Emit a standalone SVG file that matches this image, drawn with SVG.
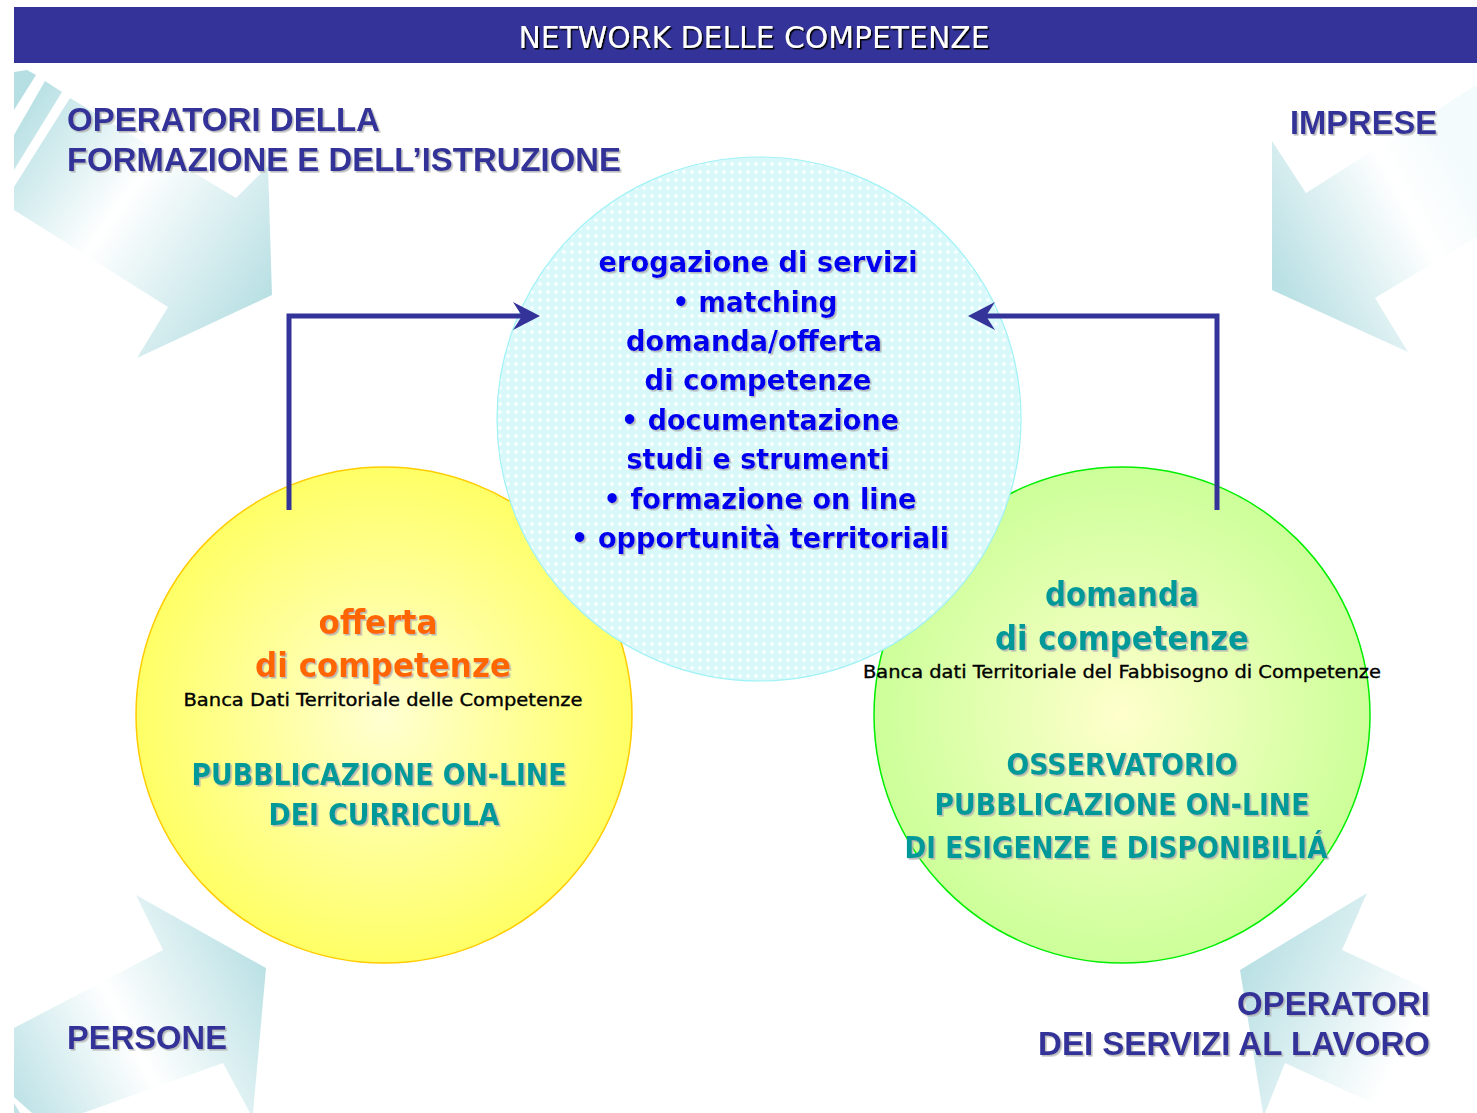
<svg xmlns="http://www.w3.org/2000/svg" width="1477" height="1113" viewBox="0 0 1477 1113">
<defs>
  <style>
    .lbl{font-family:"Liberation Sans",Arial,sans-serif;font-weight:bold;font-size:33px;fill:#333399;filter:url(#sh)}
    .ctr{font-family:"DejaVu Sans",Verdana,sans-serif;font-weight:bold;font-size:28px;fill:#0000ee;text-anchor:middle;filter:url(#sh)}
    .big{font-family:"DejaVu Sans",Verdana,sans-serif;font-weight:bold;font-size:33px;text-anchor:middle;filter:url(#sh)}
    .cap{font-family:"DejaVu Sans Condensed","DejaVu Sans",sans-serif;font-stretch:condensed;font-weight:bold;font-size:31px;fill:#009999;text-anchor:middle;filter:url(#sh)}
    .sub{font-family:"DejaVu Sans",Verdana,sans-serif;font-size:18px;fill:#000;stroke:#000;stroke-width:0.35;text-anchor:middle}
    .conn{fill:none;stroke:#333399;stroke-width:5;stroke-linejoin:miter}
  </style>
  <filter id="sh" x="-5%" y="-20%" width="110%" height="150%">
    <feDropShadow dx="1.6" dy="1.6" stdDeviation="0.5" flood-color="#b0b0b0" flood-opacity="0.85"/>
  </filter>
  <filter id="shk" x="-5%" y="-20%" width="110%" height="150%">
    <feDropShadow dx="1.5" dy="1.5" stdDeviation="0.3" flood-color="#000" flood-opacity="1"/>
  </filter>
  <marker id="arr" viewBox="-29 -15 30 30" refX="-10" refY="0" markerWidth="30" markerHeight="30" markerUnits="userSpaceOnUse" orient="auto">
    <path d="M0,0 L-27,-14 L-18,0 L-27,14 Z" fill="#333399"/>
  </marker>
  <pattern id="dots" width="8" height="8" patternUnits="userSpaceOnUse">
    <rect width="8" height="8" fill="#d9f8fa"/>
    <path d="M4,1.5 L6.5,4 L4,6.5 L1.5,4 Z" fill="#f6feff"/>
  </pattern>
  <radialGradient id="gy" cx="0.5" cy="0.5" r="0.5">
    <stop offset="0" stop-color="#ffffd2"/>
    <stop offset="1" stop-color="#ffff66"/>
  </radialGradient>
  <radialGradient id="gg" cx="0.5" cy="0.5" r="0.5">
    <stop offset="0" stop-color="#ffffcc"/>
    <stop offset="1" stop-color="#ccff99"/>
  </radialGradient>
  <linearGradient id="a1" gradientUnits="userSpaceOnUse" x1="14" y1="110" x2="272" y2="290">
    <stop offset="0" stop-color="#b5dfe3"/>
    <stop offset="0.45" stop-color="#ffffff"/>
    <stop offset="1" stop-color="#b9e0e4"/>
  </linearGradient>
  <linearGradient id="a2" gradientUnits="userSpaceOnUse" x1="1460" y1="170" x2="1272" y2="270">
    <stop offset="0" stop-color="#f4fbfc"/>
    <stop offset="0.3" stop-color="#ffffff"/>
    <stop offset="1" stop-color="#b9e0e4"/>
  </linearGradient>
  <linearGradient id="a3" gradientUnits="userSpaceOnUse" x1="14" y1="1090" x2="266" y2="960">
    <stop offset="0" stop-color="#bfe3e7"/>
    <stop offset="0.45" stop-color="#ffffff"/>
    <stop offset="1" stop-color="#b9e0e4"/>
  </linearGradient>
  <linearGradient id="a4" gradientUnits="userSpaceOnUse" x1="1477" y1="1080" x2="1245" y2="960">
    <stop offset="0" stop-color="#ffffff"/>
    <stop offset="0.3" stop-color="#ffffff"/>
    <stop offset="1" stop-color="#b9e0e4"/>
  </linearGradient>
</defs>
<rect width="1477" height="1113" fill="#ffffff"/>

<g id="bg-arrows">
  <g id="arrow-tl" fill="url(#a1)">
    <polygon points="14,72 27,70 36,75 14,110"/>
    <polygon points="45,81 62,92 14,170 14,135"/>
    <polygon points="70,98 236,198 268,166 272,295 137,358 168,307 14,210 14,187"/>
  </g>
  <g id="arrow-tr" fill="url(#a2)">
    <polygon points="1272,141 1306,193 1470,89 1477,85 1477,237 1375,298 1408,352 1272,290"/>
  </g>
  <g id="arrow-bl" fill="url(#a3)">
    <polygon points="136,895 266,968 253,1113 250,1113 223,1063 83,1113 32,1113 14,1097 14,1028 163,950"/>
    <polygon points="14,1103 20,1113 14,1113"/>
  </g>
  <g id="arrow-br" fill="url(#a4)">
    <polygon points="1367,893 1342,950 1477,1012 1477,1113 1394,1113 1285,1063 1265,1113 1263,1113 1240,970"/>
  </g>
</g>

<g id="header">
  <rect x="14" y="7" width="1463" height="56" fill="#333399"/>
  <text x="754" y="48" text-anchor="middle" textLength="471" lengthAdjust="spacingAndGlyphs" style="font-family:'DejaVu Sans Condensed','DejaVu Sans',sans-serif;font-stretch:condensed;font-size:30px;fill:#fff;filter:url(#shk)">NETWORK DELLE COMPETENZE</text>
</g>

<g id="label-formazione">
  <text class="lbl" x="67" y="131" textLength="313" lengthAdjust="spacingAndGlyphs">OPERATORI DELLA</text>
  <text class="lbl" x="67" y="171" textLength="554" lengthAdjust="spacingAndGlyphs">FORMAZIONE E DELL’ISTRUZIONE</text>
</g>
<g id="label-imprese">
  <text class="lbl" x="1290" y="134" textLength="147" lengthAdjust="spacingAndGlyphs">IMPRESE</text>
</g>
<g id="label-persone">
  <text class="lbl" x="67" y="1049" textLength="160" lengthAdjust="spacingAndGlyphs">PERSONE</text>
</g>
<g id="label-servizi">
  <text class="lbl" x="1237" y="1015" textLength="193" lengthAdjust="spacingAndGlyphs">OPERATORI</text>
  <text class="lbl" x="1038" y="1055" textLength="392" lengthAdjust="spacingAndGlyphs">DEI SERVIZI AL LAVORO</text>
</g>

<g id="node-offerta">
  <circle cx="384" cy="715" r="248" fill="url(#gy)" stroke="#ffcc00" stroke-width="1.5"/>
  <text class="big" x="378" y="634" style="fill:#ff6600" textLength="119" lengthAdjust="spacingAndGlyphs">offerta</text>
  <text class="big" x="383" y="677" style="fill:#ff6600" textLength="256" lengthAdjust="spacingAndGlyphs">di competenze</text>
  <text class="sub" x="383" y="706" textLength="399" lengthAdjust="spacingAndGlyphs">Banca Dati Territoriale delle Competenze</text>
  <text class="cap" x="379" y="785" textLength="375" lengthAdjust="spacingAndGlyphs">PUBBLICAZIONE ON-LINE</text>
  <text class="cap" x="384" y="825" textLength="231" lengthAdjust="spacingAndGlyphs">DEI CURRICULA</text>
</g>

<g id="node-domanda">
  <circle cx="1122" cy="715" r="248" fill="url(#gg)" stroke="#00ee00" stroke-width="1.5"/>
  <text class="big" x="1122" y="606" style="fill:#009999" textLength="154" lengthAdjust="spacingAndGlyphs">domanda</text>
  <text class="big" x="1122" y="650" style="fill:#009999" textLength="254" lengthAdjust="spacingAndGlyphs">di competenze</text>
  <text class="sub" x="1122" y="678" textLength="518" lengthAdjust="spacingAndGlyphs">Banca dati Territoriale del Fabbisogno di Competenze</text>
  <text class="cap" x="1122" y="775" textLength="231" lengthAdjust="spacingAndGlyphs">OSSERVATORIO</text>
  <text class="cap" x="1122" y="815" textLength="375" lengthAdjust="spacingAndGlyphs">PUBBLICAZIONE ON-LINE</text>
  <text class="cap" x="1116" y="858" textLength="423" lengthAdjust="spacingAndGlyphs">DI ESIGENZE E DISPONIBILIÁ</text>
</g>

<g id="node-servizi">
  <circle cx="759" cy="419" r="262" fill="url(#dots)" stroke="#a0f2f6" stroke-width="1.2"/>
  <text class="ctr" x="758" y="272" textLength="319" lengthAdjust="spacingAndGlyphs">erogazione di servizi</text>
  <text class="ctr" x="755" y="312" textLength="165" lengthAdjust="spacingAndGlyphs">• matching</text>
  <text class="ctr" x="754" y="351" textLength="256" lengthAdjust="spacingAndGlyphs">domanda/offerta</text>
  <text class="ctr" x="758" y="390" textLength="227" lengthAdjust="spacingAndGlyphs">di competenze</text>
  <text class="ctr" x="760" y="430" textLength="278" lengthAdjust="spacingAndGlyphs">• documentazione</text>
  <text class="ctr" x="758" y="469" textLength="263" lengthAdjust="spacingAndGlyphs">studi e strumenti</text>
  <text class="ctr" x="760" y="509" textLength="313" lengthAdjust="spacingAndGlyphs">• formazione on line</text>
  <text class="ctr" x="760" y="548" textLength="378" lengthAdjust="spacingAndGlyphs">• opportunità territoriali</text>
</g>

<g id="connectors">
  <path class="conn" d="M289,510 V316 H530" marker-end="url(#arr)"/>
  <path class="conn" d="M1217,510 V316 H978" marker-end="url(#arr)"/>
</g>
</svg>
